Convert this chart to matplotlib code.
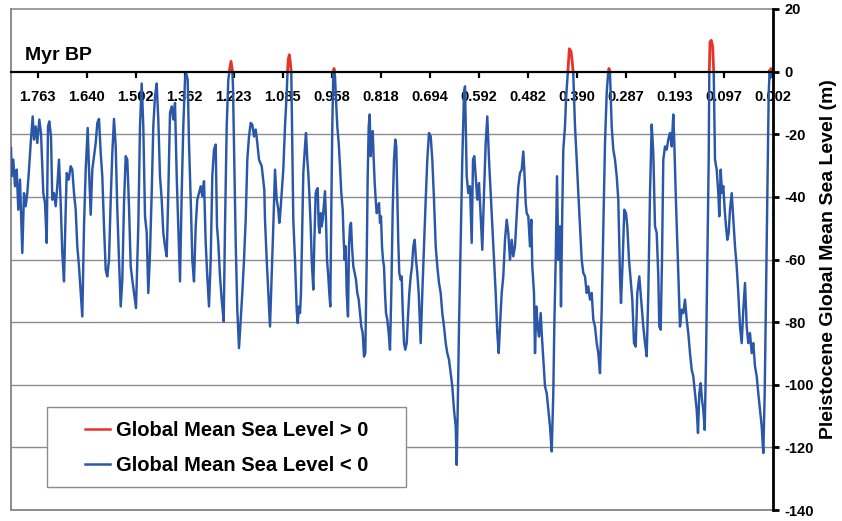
import numpy as np
import matplotlib
matplotlib.use("Agg")
import matplotlib.pyplot as plt
from matplotlib.patches import Rectangle

plt.rcParams['font.family'] = ['Liberation Sans', 'DejaVu Sans']
plt.rcParams['axes.unicode_minus'] = False

# Category position along the age axis (sample number, oldest -> youngest) and sea level (m),
# split into consecutive stretches of the record.
sample_a = [0, 0.7, 2.3, 4, 5.7, 7.3, 9, 11.3, 13, 14.7, 16.3, 18, 19.7, 21.7, 23, 24.7, 26.3, 28.3, 30, 32.3,
            34, 35.7, 37, 38.3, 40, 41.3, 43, 44.7, 46.3, 48, 49.7, 51.3, 53, 54.7, 55.7, 57.7, 59.7, 61.3, 63, 64.7,
            66.3, 68, 69.7, 71.3, 73, 74.7, 76.7, 78, 79.7, 81.3, 83, 84.7, 86.3, 88, 89.7, 91.3, 93, 94.7, 96.3, 98,
            99.7, 101.3, 103, 104.7, 106.3, 108, 109.7, 111.3, 113, 114.7, 116.3, 118, 119.7, 121.3, 123, 125]
level_a = [-24.4, -33.4, -28.1, -36.6, -31.3, -44.1, -34.5, -57.9, -38.8, -43, -38.8, -31.3, -22.8, -14.3, -21.7,
           -17.5, -22.8, -15.3, -19.6, -38.8, -42, -54.7, -17.5, -15.9, -20.7, -40.9, -38.8, -43, -36.6, -28.1,
           -42, -57.9, -67, -44.1, -32.4, -34.5, -30.2, -31.3, -38.8, -44.1, -55.8, -62.2, -70.7, -78.2, -49.4,
           -31.3, -18, -31.3, -45.7, -31.3, -27, -22.8, -16.4, -15.1, -26, -33.4, -49.4, -63.3, -65.4, -60.1,
           -40.9, -26, -15.1, -23.9, -44.1, -60.1, -75, -66.5, -42, -27, -28.1, -43, -62.2, -66.5, -70.7, -75.5]

sample_b = [127.3, 129, 130.7, 132.3, 134, 135.7, 137.3, 139, 140.7, 142.3, 144, 145.7, 147.3, 149, 150.7, 152.3,
            154, 155.7, 157.3, 159, 160.7, 162.3, 164, 165.7, 167.3, 169, 170.7, 172.3, 174, 175, 176.7, 178, 180,
            181.3, 183, 184.7, 186.3, 188, 189.7, 191.3, 193, 194.7, 196.3, 198, 199.7, 201.3, 203, 204.7, 206,
            207.3, 209, 210.7, 212.7, 214, 215.7, 217.3, 218.5, 220, 221.3, 222, 223, 224.7, 226.3, 228, 229.7,
            231.3, 233, 234.7, 236.3, 238, 239.7, 241.3, 243, 244.7, 246.3, 248, 250.7, 253.3,
            254, 255.7, 257.3, 259, 260.7, 262.3, 264, 265.7, 267.3, 268.3]
level_b = [-49.4, -17.5, -3.8, -17.5, -46.2, -51.5, -70.7, -57.9, -38.8, -17.5, -7.9, -3.8, -15.3, -33.4, -40.9,
           -51.5, -55.8, -59, -38.8, -13.2, -11.1, -15.3, -10, -33.4, -49.4, -67, -38.8, -17.5, -2.6, -0.2, -2.6,
           -22.8, -44.1, -60.1, -67, -49.4, -40.9, -38.8, -36.6, -39.8, -35, -54.7, -65.4, -75, -60.1, -33.4,
           -24.9, -23.3, -49.4, -54.7, -65.4, -72.8, -79.8, -49.4, -17.5, -2.6, 0.5, 3.3, 0.5, -5, -22.8, -54.7,
           -76, -88.3, -79.2, -70.7, -60.1, -47.3, -28.1, -20.7, -16.4, -16.9, -20.7, -18.5, -22.8, -28.1, -30.2,
           -37.7,
           -47.3, -60.1, -70.7, -81.4, -65.4, -49.4, -31.3, -40.9, -44.1, -48.3]

sample_c = [269, 270.7, 272.3, 274, 275.7, 276.7, 277.3, 278.3, 279.3, 280.3,
            281.3, 282.3, 284, 285.7, 286.7, 288, 289, 290, 291, 292.3,
            294, 295, 296.3, 297.3, 298.3, 299.7, 300.7, 302.3, 303.3, 304.7,
            305.7, 306.7, 307.7, 308.7, 309.7, 310.7, 311.7, 313, 314, 315,
            316, 317.3, 318.3, 319.3, 320.3, 321.3, 322.3, 323, 324, 325,
            326.3, 327.7, 329, 330.3, 331.7, 332.7, 333.7, 334.7, 335.7, 337,
            338, 339, 340, 341, 342.3, 343.7, 345, 346.3, 347.7, 349,
            350.3, 351.7, 353, 354.3, 355.7, 356.7, 357.7, 358.7, 359.7, 360.7,
            361.7, 362.7, 363.7, 364.7, 365.7, 367, 368, 369, 370, 371,
            372, 373, 374, 375, 376.3, 377.7, 379, 380.3, 381.7, 383,
            384.3, 385.3, 386.3, 387.3, 388.3, 389.7, 390.7, 391.7, 393, 394.3,
            395.7, 397, 398.3, 399.7, 401, 402.3, 403.7, 405, 406.3, 407.7]
level_c = [-46.5, -38.8, -31.3, -17.5, -6.8, 1, 4, 5.4, 3, -0.5,
           -22.8, -47.3, -60.1, -76, -80.3, -75, -77.1, -70.7, -54.7, -32.4,
           -23.9, -19.6, -28.1, -32.4, -38.8, -49.4, -60.1, -69.6, -54.7, -38.8,
           -37.7, -37.2, -49.4, -51.5, -45.2, -49.4, -47.3, -41.9, -38.2, -47.3,
           -60.1, -65.4, -70.7, -75, -44.1, -17.5, -0.4, 1, -1.5, -9,
           -17.5, -22.8, -30.2, -38.8, -44.1, -53.7, -60.1, -55.8, -70.7, -78.2,
           -55.8, -49.4, -48.3, -55.8, -62.2, -64.3, -66.5, -70.7, -72.8, -77.1,
           -81.4, -83.5, -91, -89.9, -60.1, -33.4, -17.5, -13.7, -27, -20.7,
           -19, -28.1, -35.6, -40.9, -45.2, -44.1, -42, -48.3, -46.2, -55.8,
           -60.1, -62.2, -70.7, -77.1, -79.2, -83.5, -88.8, -70.7, -44.1, -28.1,
           -21.7, -23.9, -38.8, -54.7, -64.3, -66.5, -65.4, -76, -86.7, -88.8,
           -86.7, -78.2, -70.7, -65.4, -62.2, -55.8, -53.7, -60.1, -64.3, -70.7]

sample_d = [409.7, 411.3, 413, 414.7, 416.3, 418, 419.7, 421.3, 423, 424.7, 426.3, 428,
            429.7, 431.3, 433, 434.7, 436.3, 438, 439.7, 441.3, 443, 444.7, 445.7, 446.7, 448, 449.7, 451.3, 453,
            454, 455.7, 457.3, 459, 460.7, 462, 463.3, 464.7, 466.3, 468, 469.7, 471.3, 473, 474.7, 476.3, 478,
            479.7, 481.3, 483, 484.7, 486.3, 487.7, 489.3, 490.7, 492.3, 494, 495.7, 497.3, 499, 500.7, 502.3]
level_d = [-86.7, -70.7, -55.8, -40.9, -28.1, -19.6, -20.7, -28.1,
           -40.9, -55.8, -62.2, -67.5, -70.7, -77.1, -81.4, -86.7, -89.9, -92, -96.3, -100.5, -108, -113.3,
           -125.6, -108, -81.4, -54.7, -28.1, -6.8, -4.7, -33.4, -38.8, -36.6, -54.7, -28.1, -27, -33.4, -40.9,
           -35.6, -46.2, -56.9, -38.8, -22.8, -14.3, -28.1, -38.8, -49.4, -60.1, -70.7, -83.5, -89.9, -79.2,
           -70.7, -65.4, -53.7, -47.3, -51.5, -60.1, -53.7, -59]

sample_e = [504, 505.7, 507.3, 509, 510.7, 512.3, 513.3, 514.7, 515.7, 517.3, 519, 520.3, 521.3, 523, 524, 525.3,
            526.7, 528, 529.7, 530.7, 532.3, 534, 535.7, 537.3, 539, 540.7, 542.3, 543.3, 544.7, 546, 547.3, 549,
            550, 551.3, 552.3, 554, 555, 556.3, 557.3, 558.3, 560, 561.3, 562.3, 564, 565.7, 567.3, 569, 570.7,
            572.3, 574, 575.7, 577.3, 579, 580.7, 582.3, 584, 585.7, 587.3, 589, 590.7, 592.3, 594, 595.7, 597,
            598, 599, 600.7, 602.3, 604, 605.7, 607.3, 609, 610, 611.7, 613.3, 615, 616.3, 618, 619.7, 621.3, 623,
            624.7, 626.3, 628.3]
level_e = [-55.8, -46.2, -36.6, -32.4, -31.3, -25.5, -31.3, -42, -45.2, -46.2, -55.8, -47.3, -62.2, -70.7,
           -89.9, -75, -81.4, -84.6, -77.1, -83.5, -92, -100.5, -102.7, -108, -113.3, -121.3, -102.7, -81.4,
           -60.1, -33.4, -60.1, -49.4, -75, -44.1, -24.9, -17.5, -8.9, -3, 2, 7.3, 6.5, 3, -1, -17.5, -28.1,
           -38.8, -49.4, -60.1, -64.3, -65.4, -70.7, -68.6, -72.8, -70.7, -79.2, -81.4, -86.7, -89.9, -96.3, -76,
           -49.4, -22.8, -6.8, -1, 1, -0.5, -17.5, -24.9, -28.1, -33.4, -40.9, -65.4, -73.9, -60.1, -44.1, -45.2,
           -49.4, -60.1, -66.5, -72.8, -86.7, -87.8, -70.7, -65.4]

sample_f = [630.7, 632.3, 634, 635.7, 637.3, 639, 640.7, 642.3, 644, 645.7, 647.3, 648.3,
            649.7, 651, 652.3, 654, 655.7, 657.3, 659, 660.7, 662.3, 663.3, 664.7, 666.3, 668, 669, 670.7, 672.3,
            674, 675.7, 677.3, 679, 680.7, 682.3, 684, 685.7, 687, 688.3, 689.7, 691, 692.3, 693.7, 695, 696.3,
            697.7, 698.3, 699, 700.3, 701.7, 702.7, 704, 705.7, 707.3, 708.3, 709.7, 711, 712.3, 713.7, 715, 716.3,
            717.7, 719, 720.7, 722.3, 724, 725.7, 727.3, 729, 730.7, 732.3, 734, 735.7, 737.3, 739, 740.7, 742.3,
            744, 745.7, 747.3, 749, 750.7, 752.3, 753.7, 755, 756.3, 757.7, 758.7, 759.3, 760, 761]
level_f = [-75, -81.4, -86.7, -90.9, -70.7, -38.8, -16.9, -26, -49.4, -51.5, -65.4, -81.4, -82.4, -60.1, -28.1,
           -23.9, -24.9, -21.7, -19.6, -23.9, -13.7, -22.8, -38.8, -54.7, -70.7, -81.4, -76, -77.1, -72.8, -79.2,
           -83.5, -89.9, -95.2, -97.3, -102.7, -108, -115.4, -102.7, -99.5, -104.8, -108, -114.4, -92, -60.1,
           -28.1, 0, 9.5, 10, 8, 0, -28.1, -31.3, -38.8, -46.2, -31.3, -38.8, -36.6, -44.1, -49.4, -53.7, -51.5,
           -44.1, -38.8, -47.3, -55.8, -62.2, -70.7, -81.4, -86.7, -76, -67.5, -81.4, -86.7, -83.5, -89.9, -86.7,
           -94.1, -97.3, -102.7, -108, -113.3, -121.8, -102.7, -70.7, -38.8, -6.8, 0.5, -2, 1, 0.5]

tick_labels = ['1.763', '1.640', '1.502', '1.362', '1.223', '1.085', '0.958', '0.818',
               '0.694', '0.592', '0.482', '0.390', '0.287', '0.193', '0.097', '0.002']
first_tick = 26.7
tick_step = 49
n_samples = 762

series_labels = ['Global Mean Sea Level > 0', 'Global Mean Sea Level < 0']

BLUE = '#2a57a8'
RED = '#e8322b'
GRAY = '#8c8c8c'

xs, ys = [], []
for s_part, l_part in [(sample_a, level_a), (sample_b, level_b), (sample_c, level_c),
                       (sample_d, level_d), (sample_e, level_e), (sample_f, level_f)]:
    n = min(len(s_part), len(l_part))
    xs.extend(s_part[:n])
    ys.extend(l_part[:n])
x = np.array(xs)
y = np.array(ys)

fig = plt.figure(figsize=(8.42, 5.21), dpi=100)
ax = fig.add_axes([11/842, 1 - 510/521, (773 - 11)/842, (510 - 9)/521])

ax.set_xlim(0, n_samples)
ax.set_ylim(-140, 20)

blue_line, = ax.plot(x, y, color=BLUE, lw=1.75, solid_joinstyle='round', zorder=2.6)
red_line, = ax.plot(x, y, color=RED, lw=2.0, solid_joinstyle='round', zorder=2.7)
clip_b = Rectangle((0, -140), n_samples, 140, transform=ax.transData)
clip_r = Rectangle((0, 0), n_samples, 20, transform=ax.transData)
blue_line.set_clip_path(clip_b)
red_line.set_clip_path(clip_r)

# gridlines
for g in range(-120, 0, 20):
    ax.axhline(g, color=GRAY, lw=1.0, zorder=1)
ax.axhline(-140, color=GRAY, lw=1.4, zorder=1, clip_on=False)

# spines
ax.spines['top'].set_color(GRAY)
ax.spines['top'].set_linewidth(1.2)
ax.spines['left'].set_color(GRAY)
ax.spines['left'].set_linewidth(1.4)
ax.spines['right'].set_color('black')
ax.spines['right'].set_linewidth(2.0)
ax.spines['right'].set_zorder(3)
ax.spines['bottom'].set_position(('data', 0))
ax.spines['bottom'].set_color('black')
ax.spines['bottom'].set_linewidth(1.6)
ax.spines['bottom'].set_zorder(3)

ax.set_xticks(first_tick + tick_step * np.arange(len(tick_labels)))
ax.set_xticklabels(tick_labels, fontsize=10.5, fontweight='bold')
ax.tick_params(axis='x', direction='out', length=4, width=1.6, pad=9, color='black')

ax.yaxis.tick_right()
ax.set_yticks(np.arange(-140, 21, 20))
ax.set_yticklabels([str(v) for v in range(-140, 21, 20)], fontsize=10.5, fontweight='bold')
ax.tick_params(axis='y', direction='out', length=4.5, width=2.0, pad=4, color='black')
ax.yaxis.set_label_position('right')
ax.set_ylabel('Pleistocene Global Mean Sea Level (m)', fontsize=14, fontweight='bold',
              rotation=90, labelpad=4)

fig.text(25/842, 1 - 60/521, 'Myr BP', fontsize=14, fontweight='bold', va='baseline', ha='left')

# legend box
box = Rectangle((47/842, 1 - 487/521), (406 - 47)/842, (487 - 407)/521, transform=fig.transFigure,
                facecolor='white', edgecolor=GRAY, lw=1.0, zorder=4, clip_on=False)
ax.add_patch(box)
h1, = ax.plot([], [], color=RED, lw=1.8)
h2, = ax.plot([], [], color=BLUE, lw=1.8)
leg = ax.legend([h1, h2], series_labels, loc='center', bbox_to_anchor=((47 + 406)/2/842, 1 - 448/521),
                bbox_transform=fig.transFigure, frameon=False,
                prop={'size': 14.5, 'weight': 'bold'}, handlelength=1.25, handletextpad=0.3,
                labelspacing=0.75)
leg.set_zorder(6)

fig.savefig('out.png', dpi=100)
